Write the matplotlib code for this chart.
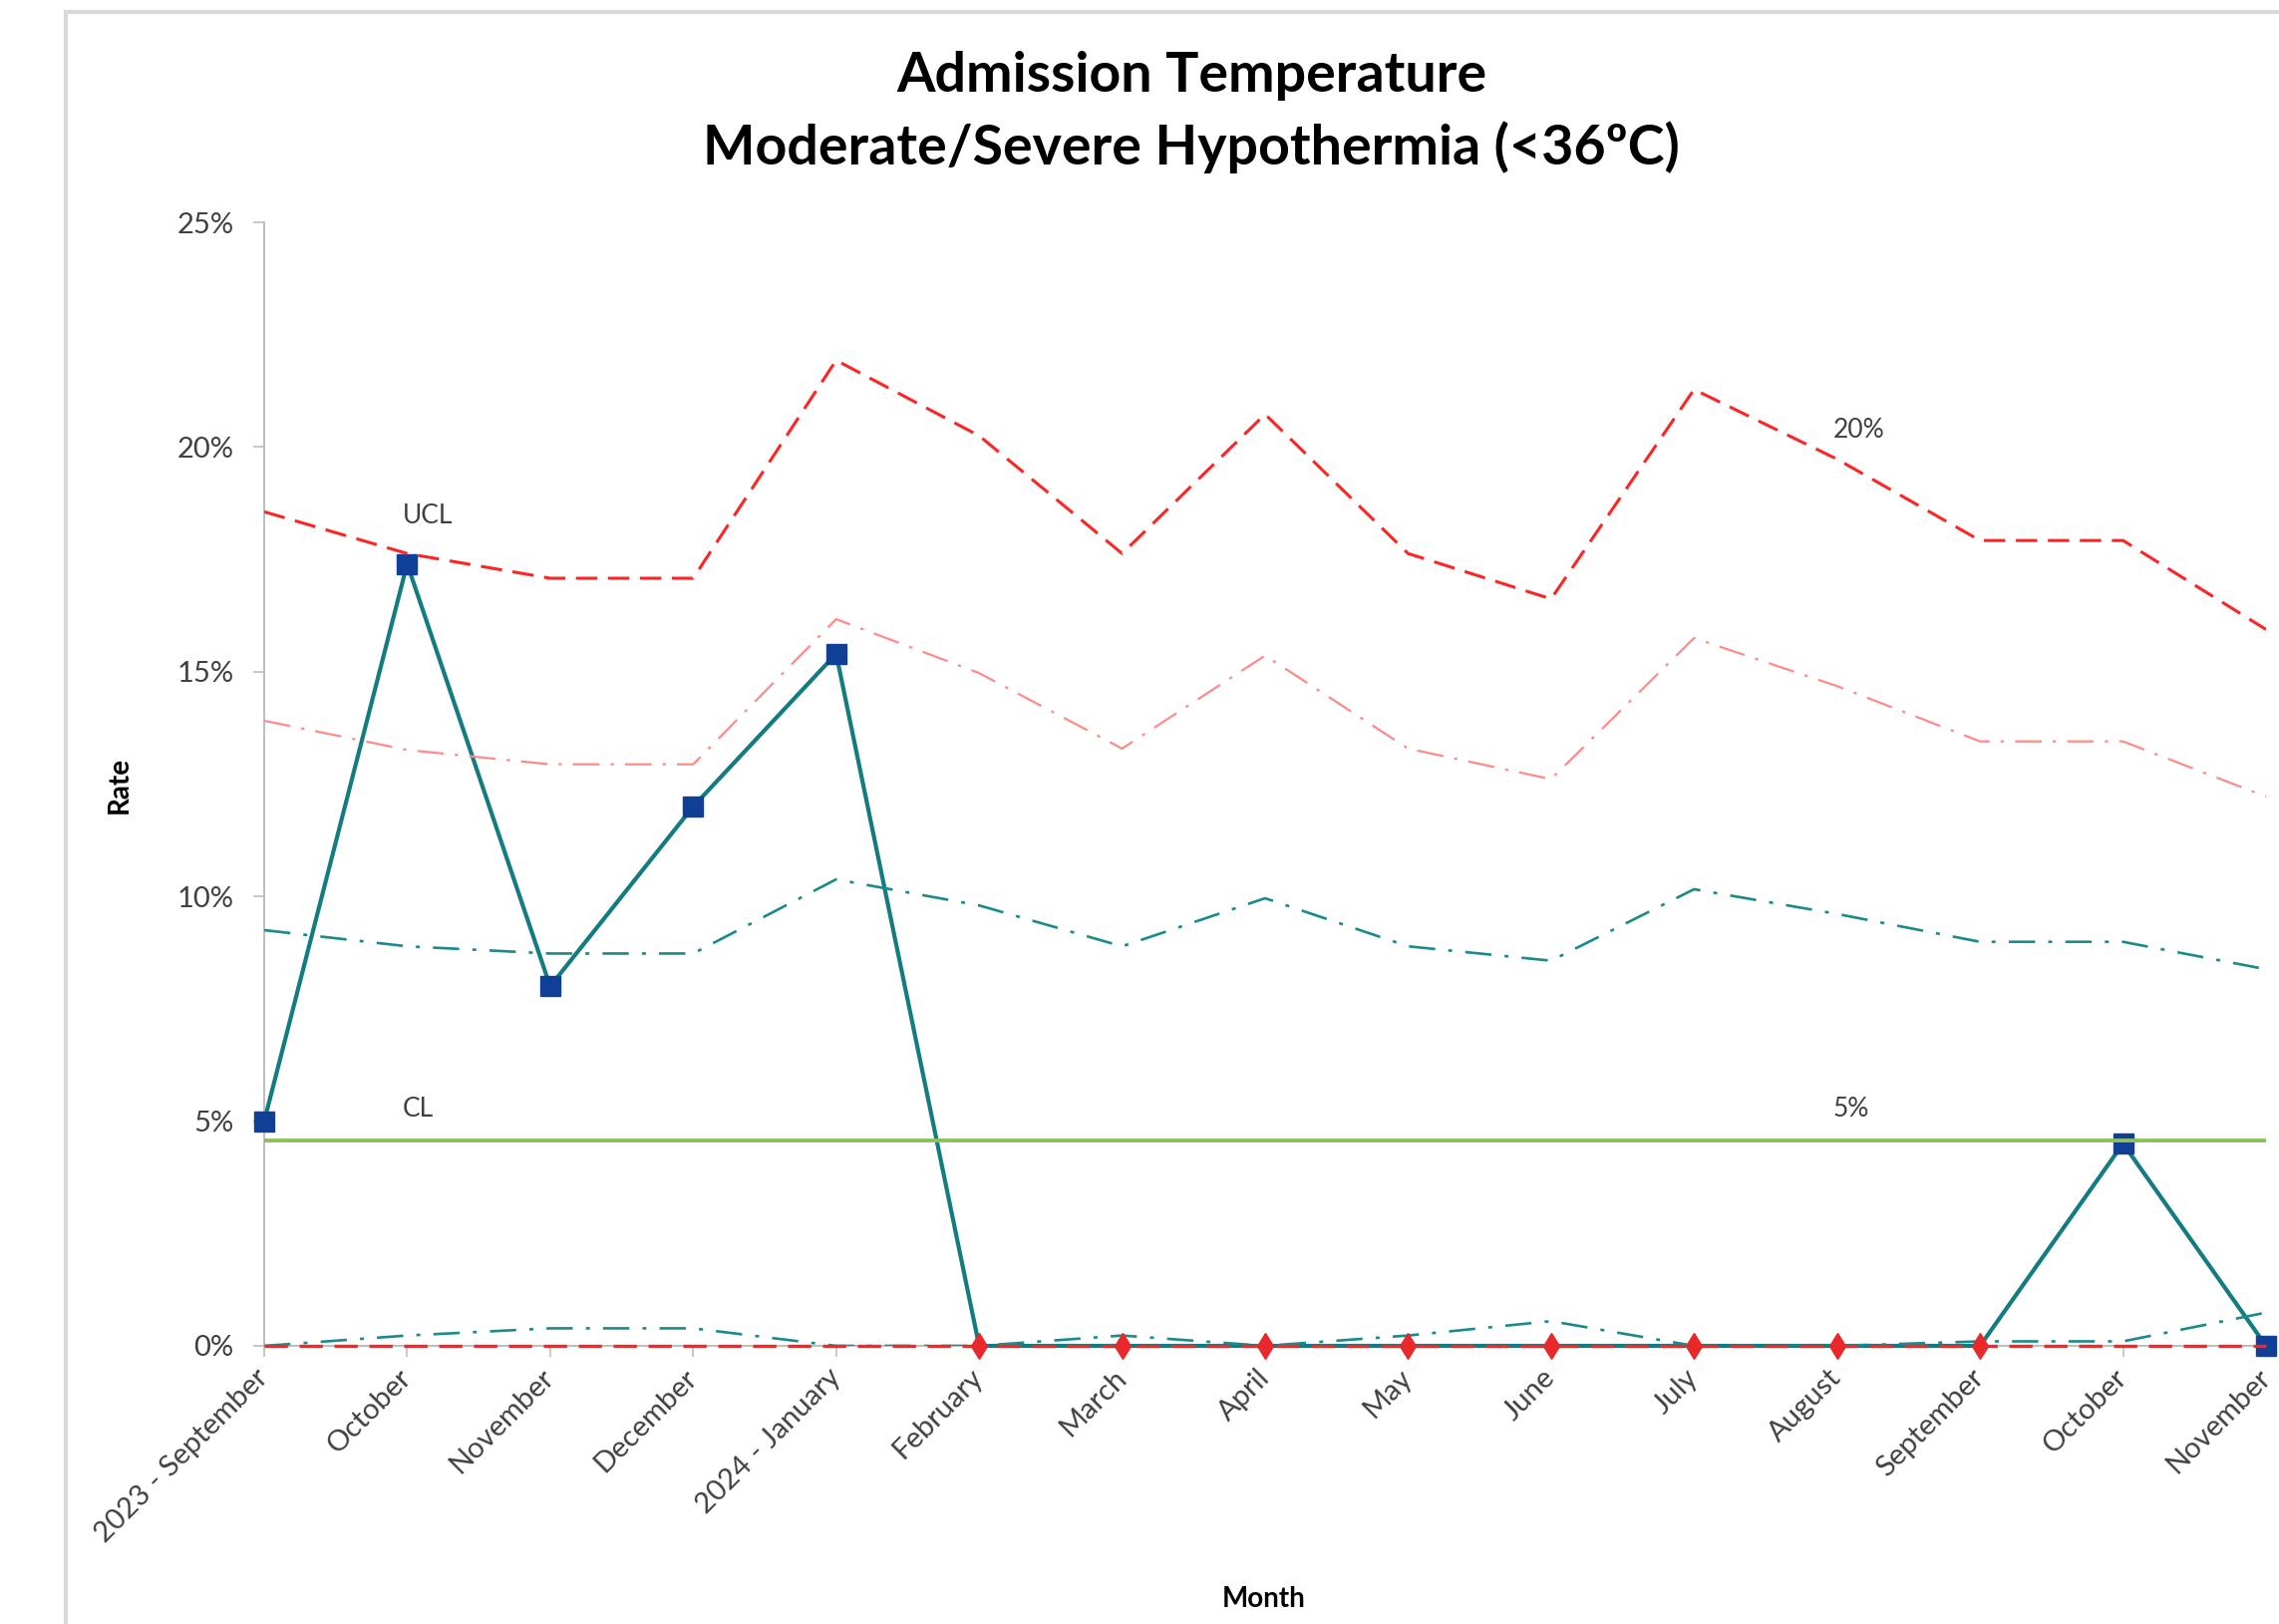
import matplotlib
matplotlib.use("Agg")
import matplotlib.pyplot as plt
from matplotlib.patches import Rectangle
from matplotlib.ticker import FuncFormatter

plt.rcParams['font.family'] = ['Lato', 'DejaVu Sans']

# months on the x axis
months = ["2023 - September", "October", "November", "December", "2024 - January",
          "February", "March", "April", "May", "June", "July", "August",
          "September", "October", "November"]

# observed rate (%)
rate = [5.0, 17.4, 8.0, 12.0, 15.4, 0.0, 0.0, 0.0, 0.0, 0.0, 0.0, 0.0, 0.0, 4.5, 0.0]

# centre line (%)
cl = [4.56] * 15

# control limits (%)
ucl = [18.56, 17.63, 17.08, 17.08, 21.93, 20.25, 17.63, 20.73, 17.63, 16.62,
       21.28, 19.73, 17.92, 17.92, 15.94]
upper_2s = [13.91, 13.26, 12.94, 12.94, 16.17, 14.97, 13.29, 15.36, 13.29, 12.61,
            15.75, 14.68, 13.45, 13.45, 12.22]
upper_1s = [9.25, 8.89, 8.73, 8.73, 10.38, 9.80, 8.89, 9.96, 8.89, 8.57,
            10.16, 9.61, 8.99, 8.99, 8.38]
lower_1s = [0.0, 0.23, 0.39, 0.39, 0.0, 0.0, 0.23, 0.0, 0.23, 0.55,
            0.0, 0.0, 0.10, 0.10, 0.74]
lcl = [0.0] * 15

# points flagged as special cause (drawn as red diamonds)
flag_idx = [5, 6, 7, 8, 9, 10, 11, 12]
square_idx = [0, 1, 2, 3, 4, 13, 14]

W, H = 2286, 1629
fig = plt.figure(figsize=(W / 100, H / 100), dpi=100)

# light grey frame of the chart object (cropped on right/bottom)
fig.patches.append(Rectangle((66 / W, -0.1), 1.2, 1 - 12 / H + 0.1,
                             transform=fig.transFigure, fill=False,
                             edgecolor="#D9D9D9", linewidth=3))

ax = fig.add_axes([265 / W, 1 - 1350 / H, (2273 - 265) / W, (1350 - 223) / H])
x = list(range(len(months)))

ax.plot(x, rate, color="#137C80", linewidth=3.0, zorder=3, clip_on=False)
ax.plot([x[i] for i in square_idx], [rate[i] for i in square_idx], linestyle="none",
        marker="s", markersize=14, color="#0F3F97", zorder=3, clip_on=False)

ax.plot(x, cl, color="#8DC05A", linewidth=2.8, zorder=4)
ax.plot(x, ucl, color="#FF2424", linewidth=2.2, dashes=(7, 3.5), zorder=4)
ax.plot(x, upper_2s, color="#FF8A8A", linewidth=1.6, dashes=(12, 5, 1.5, 5), zorder=4)
ax.plot(x, upper_1s, color="#1A8A8A", linewidth=1.9, dashes=(10, 5, 1.5, 5), zorder=4)
ax.plot(x, lower_1s, color="#1A8A8A", linewidth=1.9, dashes=(10, 5, 1.5, 5), zorder=4)
ax.plot(x, lcl, color="#FF2424", linewidth=2.4, dashes=(7, 3.5), zorder=5, clip_on=False)
ax.plot([x[i] for i in flag_idx], [rate[i] for i in flag_idx], linestyle="none",
        marker="d", markersize=13, color="#E8282A", zorder=6, clip_on=False)

# labels on the chart
lab_kw = dict(fontsize=19, color="#404040", ha="left", va="baseline")
ax.text(0.97, 18.3, "UCL", **lab_kw)
ax.text(0.97, 5.1, "CL", **lab_kw)
ax.text(10.97, 20.2, "20%", **lab_kw)
ax.text(10.97, 5.1, "5%", **lab_kw)

ax.set_xlim(0, 14)
ax.set_ylim(0, 25)
ax.set_yticks([0, 5, 10, 15, 20, 25])
ax.yaxis.set_major_formatter(FuncFormatter(lambda v, p: f"{v:.0f}%"))
ax.set_xticks(x)
ax.set_xticklabels(months, rotation=45, ha="right", va="center", rotation_mode="anchor")

for s in ["top", "right"]:
    ax.spines[s].set_visible(False)
for s in ["left", "bottom"]:
    ax.spines[s].set_color("#BFBFBF")
    ax.spines[s].set_linewidth(1.5)

ax.tick_params(axis="y", length=8, width=1.2, color="#BFBFBF", pad=14,
               labelsize=21, labelcolor="#404040")
ax.tick_params(axis="x", length=8, width=1.2, color="#BFBFBF", pad=12,
               labelsize=21, labelcolor="#404040")

fig.text(120 / W, 1 - 787 / H, "Rate", rotation=90, fontsize=20, fontweight="bold",
         ha="center", va="center")
fig.text(1268 / W, 1 - 1604 / H, "Month", fontsize=20, fontweight="bold",
         ha="center", va="center")

fig.text(1195 / W, 1 - 92 / H, "Admission Temperature", fontsize=40,
         fontweight="bold", ha="center", va="baseline")
fig.text(1195 / W, 1 - 165 / H, "Moderate/Severe Hypothermia (<36ºC)", fontsize=40,
         fontweight="bold", ha="center", va="baseline")

fig.savefig("out.png", dpi=100, facecolor="white")
